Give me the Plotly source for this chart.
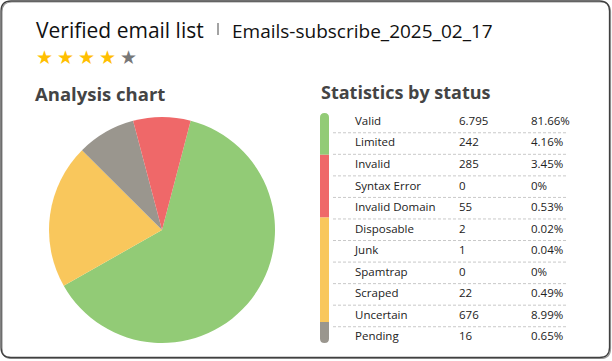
import plotly.graph_objects as go

# ---------------- data ----------------
statuses = ["Valid", "Limited", "Invalid", "Syntax Error", "Invalid Domain",
            "Disposable", "Junk", "Spamtrap", "Scraped", "Uncertain", "Pending"]
counts = [6795, 242, 285, 0, 55, 2, 1, 0, 22, 676, 16]
percents = [81.66, 4.16, 3.45, 0, 0.53, 0.02, 0.04, 0, 0.49, 8.99, 0.65]
status_groups = ["valid", "valid", "invalid", "invalid", "invalid",
                 "risky", "risky", "risky", "risky", "risky", "unknown"]

pie_groups = ["valid", "risky", "unknown", "invalid"]
pie_values = [62.7, 20.7, 8.4, 8.2]

group_colors = {"valid": "#92CB76", "invalid": "#EF6869",
                "risky": "#F9C75C", "unknown": "#9A968E"}

rating = 4
max_rating = 5

title_text = "Verified email list"
file_text = "Emails-subscribe_2025_02_17"

W, H = 612, 361

# ---------------- layout constants (pixels) ----------------
row_y0, row_dy = 122.0, 21.55
col_label, col_count, col_pct = 355, 459, 531
bar_x0, bar_x1 = 320, 329
bar_top, bar_bot = 113, 343
font_body = "Open Sans, Noto Sans, sans-serif"

fig = go.Figure()

# pie
fig.add_trace(go.Pie(
    labels=pie_groups, values=pie_values,
    marker=dict(colors=[group_colors[g] for g in pie_groups], line=dict(width=0)),
    sort=False, direction="clockwise", rotation=14.7,
    textinfo="none", hoverinfo="label+percent", showlegend=False,
    domain=dict(x=[49 / W, 275 / W], y=[(H - 343) / H, (H - 117) / H]),
))

row_ys = [row_y0 + i * row_dy for i in range(len(statuses))]

def fmt_count(c):
    return f"{c:,}".replace(",", ".")

def fmt_pct(p):
    return "0%" if p == 0 else f"{p:.2f}%"

for xs, texts in [(col_label, statuses),
                  (col_count, [fmt_count(c) for c in counts]),
                  (col_pct, [fmt_pct(p) for p in percents])]:
    fig.add_trace(go.Scatter(
        x=[xs] * len(texts), y=row_ys, mode="text", text=texts,
        textposition="middle right",
        textfont=dict(family=font_body, size=11.5, color="#222222"),
        hoverinfo="skip", showlegend=False, cliponaxis=False,
    ))

shapes = []

# card border (shadow + border)
def rrect(x0, y0, x1, y1, r):
    return (f"M{x0+r},{y0} L{x1-r},{y0} Q{x1},{y0} {x1},{y0+r} L{x1},{y1-r} "
            f"Q{x1},{y1} {x1-r},{y1} L{x0+r},{y1} Q{x0},{y1} {x0},{y1-r} "
            f"L{x0},{y0+r} Q{x0},{y0} {x0+r},{y0} Z")

shapes.append(dict(type="path", path=rrect(2, 2, 610.5, 358.5, 10), xref="x", yref="y",
                   line=dict(color="#9a9a9a", width=1.2), layer="below"))
shapes.append(dict(type="path", path=rrect(1, 1, 609.5, 357.5, 10), xref="x", yref="y",
                   line=dict(color="#404040", width=1.3), layer="below"))

# separator next to title
shapes.append(dict(type="line", x0=218, x1=218, y0=23, y1=35, xref="x", yref="y",
                   line=dict(color="#8c8c8c", width=1.6)))

# row separators
for i in range(len(statuses) - 1):
    y = (row_ys[i] + row_ys[i + 1]) / 2
    shapes.append(dict(type="line", x0=333, x1=568, y0=y, y1=y, xref="x", yref="y",
                       line=dict(color="#c9c9c9", width=1, dash="3px,2px"), layer="below"))

# status colour bar with rounded ends
seg_h = (bar_bot - bar_top) / len(statuses)
segments = []
start = 0
for i in range(1, len(statuses) + 1):
    if i == len(statuses) or status_groups[i] != status_groups[start]:
        segments.append((status_groups[start], start, i))
        start = i
rad = (bar_x1 - bar_x0) / 2
for k, (g, a, b) in enumerate(segments):
    y0 = bar_top + a * seg_h
    y1 = bar_top + b * seg_h
    col = group_colors[g]
    if k == 0:
        p = (f"M{bar_x0},{y1} L{bar_x0},{y0+rad} Q{bar_x0},{y0} {bar_x0+rad},{y0} "
             f"Q{bar_x1},{y0} {bar_x1},{y0+rad} L{bar_x1},{y1} Z")
    elif k == len(segments) - 1:
        p = (f"M{bar_x0},{y0} L{bar_x1},{y0} L{bar_x1},{y1-rad} Q{bar_x1},{y1} {bar_x0+rad},{y1} "
             f"Q{bar_x0},{y1} {bar_x0},{y1-rad} Z")
    else:
        p = f"M{bar_x0},{y0} L{bar_x1},{y0} L{bar_x1},{y1} L{bar_x0},{y1} Z"
    shapes.append(dict(type="path", path=p, xref="x", yref="y",
                       fillcolor=col, line=dict(width=0)))

annotations = []
annotations.append(dict(x=34, y=30, text=title_text, xref="x", yref="y", showarrow=False,
                        xanchor="left", yanchor="middle",
                        font=dict(family=font_body, size=21, color="#111111")))
annotations.append(dict(x=230, y=30.5, text=file_text, xref="x", yref="y", showarrow=False,
                        xanchor="left", yanchor="middle",
                        font=dict(family=font_body, size=19, color="#111111")))
for i in range(max_rating):
    annotations.append(dict(x=44.5 + i * 21, y=56.5, text="★", xref="x", yref="y",
                            showarrow=False, xanchor="center", yanchor="middle",
                            font=dict(family="DejaVu Sans", size=19,
                                      color="#FFBF00" if i < rating else "#777777")))
annotations.append(dict(x=33, y=93, text="<b>Analysis chart</b>", xref="x", yref="y",
                        showarrow=False, xanchor="left", yanchor="middle",
                        font=dict(family=font_body, size=18.5, color="#444444")))
annotations.append(dict(x=319, y=92, text="<b>Statistics by status</b>", xref="x", yref="y",
                        showarrow=False, xanchor="left", yanchor="middle",
                        font=dict(family=font_body, size=18, color="#444444")))

fig.update_layout(
    width=W, height=H, margin=dict(l=0, r=0, t=0, b=0),
    paper_bgcolor="white", plot_bgcolor="rgba(0,0,0,0)",
    xaxis=dict(range=[0, W], visible=False, fixedrange=True, domain=[0, 1]),
    yaxis=dict(range=[H, 0], visible=False, fixedrange=True, domain=[0, 1]),
    shapes=shapes, annotations=annotations, showlegend=False,
)

fig.write_html("out.html")
